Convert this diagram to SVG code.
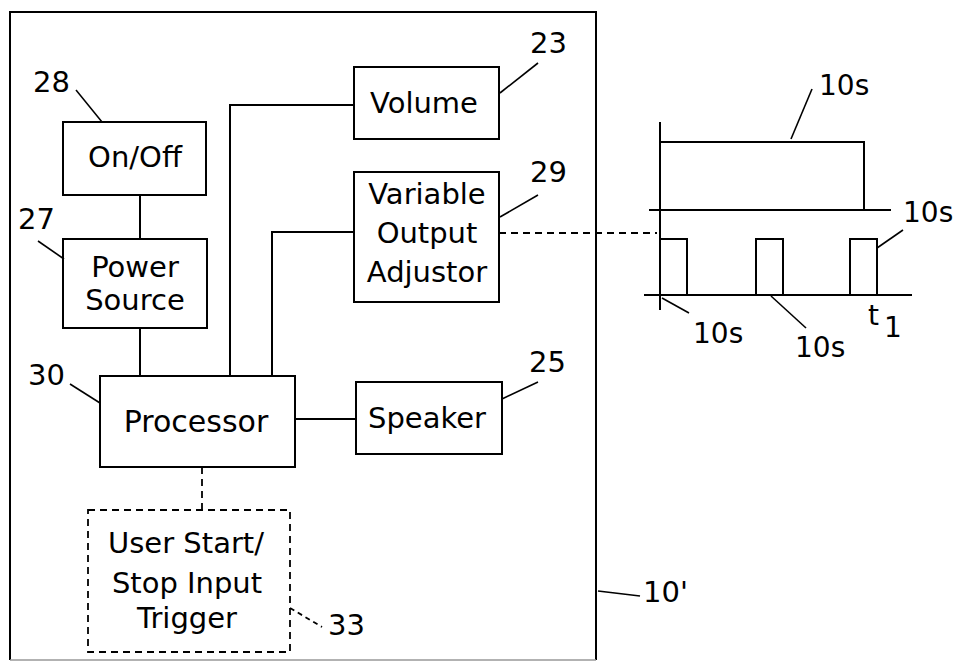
<svg xmlns="http://www.w3.org/2000/svg" width="956" height="662" viewBox="0 0 956 662">
<style>
.bx{fill:none;stroke:#000;stroke-width:2}
.ln{fill:none;stroke:#000;stroke-width:2}
.ld{fill:none;stroke:#000;stroke-width:1.6}
.ds{fill:none;stroke:#000;stroke-width:1.8;stroke-dasharray:7 5}
.t{font-family:"DejaVu Sans",sans-serif;font-size:29px;fill:#000;text-anchor:middle}
.n{font-family:"DejaVu Sans",sans-serif;font-size:29px;fill:#000}
.s{font-family:"DejaVu Sans",sans-serif;font-size:28px;fill:#000}
</style>
<rect width="956" height="662" fill="#fff"/>
<g id="frame">
<path class="ln" d="M10,660 V12 H596 V660"/>
<path d="M10,660 H596" stroke="#999" stroke-width="1.5" fill="none"/>
<path class="ld" d="M598,591 L640,596"/>
<text class="n" x="643" y="602">10'</text>
</g>
<g id="connectors">
<path class="ln" d="M140,195 V239"/>
<path class="ln" d="M140,328 V376"/>
<path class="ln" d="M230,376 V105 H354"/>
<path class="ln" d="M272,376 V232 H354"/>
<path class="ln" d="M295,419 H356"/>
<path class="ds" d="M202,467 V510"/>
<path class="ds" d="M499,233 H657"/>
</g>
<g id="onoff">
<rect class="bx" x="63" y="122" width="143" height="73"/>
<text class="t" x="135" y="167">On/Off</text>
<path class="ld" d="M76,90 L102,122"/>
<text class="n" x="33" y="92">28</text>
</g>
<g id="power">
<rect class="bx" x="63" y="239" width="144" height="89"/>
<text class="t" x="135" y="277">Power</text>
<text class="t" x="135" y="310">Source</text>
<path class="ld" d="M38,241 L64,259"/>
<text class="n" x="18" y="229">27</text>
</g>
<g id="volume">
<rect class="bx" x="354" y="67" width="145" height="72"/>
<text class="t" x="424" y="113">Volume</text>
<path class="ld" d="M500,93 L538,63"/>
<text class="n" x="530" y="53">23</text>
</g>
<g id="adjustor">
<rect class="bx" x="354" y="172" width="145" height="130"/>
<text class="t" x="427" y="204">Variable</text>
<text class="t" x="427" y="243">Output</text>
<text class="t" x="427" y="282">Adjustor</text>
<path class="ld" d="M500,217 L538,195"/>
<text class="n" x="530" y="182">29</text>
</g>
<g id="processor">
<rect class="bx" x="100" y="376" width="195" height="91"/>
<text class="t" x="196" y="432" style="font-size:30px">Processor</text>
<path class="ld" d="M70,384 L100,403"/>
<text class="n" x="28" y="385">30</text>
</g>
<g id="speaker">
<rect class="bx" x="356" y="382" width="146" height="72"/>
<text class="t" x="427" y="428">Speaker</text>
<path class="ld" d="M502,399 L538,382"/>
<text class="n" x="529" y="372">25</text>
</g>
<g id="trigger">
<rect class="ds" x="88" y="510" width="202" height="142"/>
<text class="t" x="186" y="553">User Start/</text>
<text class="t" x="187" y="593">Stop Input</text>
<text class="t" x="187" y="628">Trigger</text>
<path class="ds" d="M290,608 L322,627" style="stroke-dasharray:5 4"/>
<text class="n" x="328" y="635">33</text>
</g>
<g id="timing">
<path class="ln" d="M660,122 V310"/>
<path class="ln" d="M660,142 H864 V210"/>
<path class="ln" d="M649,210 H891"/>
<path class="ln" d="M644,295 H912"/>
<path class="ln" d="M660,239 H687 V295"/>
<path class="ln" d="M756,295 V239 H783 V295"/>
<path class="ln" d="M850,295 V239 H877 V295"/>
<path class="ld" d="M812,89 L791,139"/>
<text class="s" x="819" y="95">10s</text>
<path class="ld" d="M903,230 L877,248"/>
<text class="s" x="903" y="222">10s</text>
<path class="ld" d="M662,298 L689,313"/>
<text class="s" x="693" y="343">10s</text>
<path class="ld" d="M771,296 L806,328"/>
<text class="s" x="795" y="357">10s</text>
<text class="s" x="868" y="325">t</text>
<text class="s" x="884" y="337">1</text>
</g>
</svg>
